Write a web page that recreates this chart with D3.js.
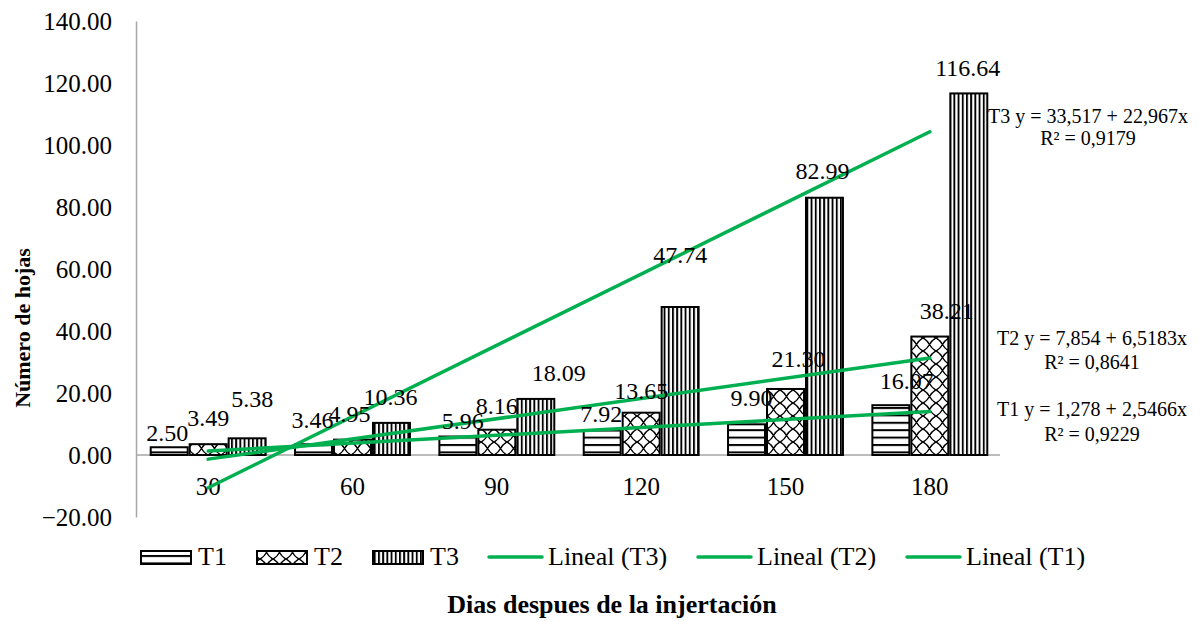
<!DOCTYPE html>
<html>
<head>
<meta charset="utf-8">
<script src="https://cdn.jsdelivr.net/npm/d3@7"></script>
<style>
  html, body { margin: 0; padding: 0; background: #fff; }
  svg { display: block; }
  text { font-family: "Liberation Serif", "Times New Roman", serif; fill: #000; }
</style>
</head>
<body>
<svg id="chart" width="1200" height="621"></svg>
<script>
// ---- data ----
const categories = ["30", "60", "90", "120", "150", "180"];
const seriesNames = ["T1", "T2", "T3"];
const valuesT1 = [2.50, 3.46, 5.96, 7.92, 9.90, 16.07];
const valuesT2 = [3.49, 4.95, 8.16, 13.65, 21.30, 38.21];
const valuesT3 = [5.38, 10.36, 18.09, 47.74, 82.99, 116.64];
const labelsT1 = ["2.50", "3.46", "5.96", "7.92", "9.90", "16.07"];
const labelsT2 = ["3.49", "4.95", "8.16", "13.65", "21.30", "38.21"];
const labelsT3 = ["5.38", "10.36", "18.09", "47.74", "82.99", "116.64"];
const yTicks = [-20, 0, 20, 40, 60, 80, 100, 120, 140];
// linear trend coefficients (x = category index 1..6)
const trendIntercepts = [-1.278, -7.854, -33.517];
const trendSlopes = [2.5466, 6.5183, 22.967];
const trendEquations = ["T1 y = 1,278 + 2,5466x", "T2 y = 7,854 + 6,5183x", "T3 y = 33,517 + 22,967x"];
const trendR2 = ["R² = 0,9229", "R² = 0,8641", "R² = 0,9179"];
const legendLabels = ["T1", "T2", "T3", "Lineal (T3)", "Lineal (T2)", "Lineal (T1)"];

// ---- layout (label nudges in px, relative to default position) ----
const nudgeT1 = [[-2, 12], [-1, 2], [5, 10], [-1, 10], [5, 0], [16, 2]];
const nudgeT2 = [[0, 0], [-3, 0], [0, 2], [0, 4], [13, -4], [17, 0]];
const nudgeT3 = [[5, -13], [-1, 0], [23, 0], [0, -26], [-2, -1], [-1, 1]];

const svg = d3.select("#chart");
const green = "#00B050";
const axisGray = "#A6A6A6";

const x = d3.scaleBand().domain(categories).range([136, 1002]).paddingInner(0.19).paddingOuter(0.095);
const xs = d3.scaleBand().domain(seriesNames).range([0, x.bandwidth()]);
const y = d3.scaleLinear().domain([-20, 140]).range([517, 21]);

// ---- patterns ----
const defs = svg.append("defs");
const p1 = defs.append("pattern").attr("id", "pT1").attr("patternUnits", "userSpaceOnUse").attr("width", 10).attr("height", 7.4);
p1.append("rect").attr("width", 10).attr("height", 7.4).attr("fill", "#fff");
p1.append("rect").attr("y", 0).attr("width", 10).attr("height", 2).attr("fill", "#000");
const p3 = defs.append("pattern").attr("id", "pT3").attr("patternUnits", "userSpaceOnUse").attr("width", 4.2).attr("height", 10);
p3.append("rect").attr("width", 4.2).attr("height", 10).attr("fill", "#fff");
p3.append("rect").attr("x", 0).attr("width", 1.9).attr("height", 10).attr("fill", "#000");
const p2 = defs.append("pattern").attr("id", "pT2").attr("patternUnits", "userSpaceOnUse").attr("width", 13).attr("height", 13);
p2.append("rect").attr("width", 13).attr("height", 13).attr("fill", "#fff");
p2.append("path").attr("d", "M0,0 Q4,2 6.5,6.5 Q9,11 13,13 M13,0 Q9,2 6.5,6.5 Q4,11 0,13")
  .attr("fill", "none").attr("stroke", "#000").attr("stroke-width", 1.4);
const fills = { T1: "url(#pT1)", T2: "url(#pT2)", T3: "url(#pT3)" };

// ---- axes ----
const yAxis = d3.axisLeft(y).tickValues(yTicks).tickSize(0).tickPadding(24).tickFormat(d3.format(".2f"));
const gy = svg.append("g").attr("transform", "translate(136,0)").call(yAxis);
gy.attr("font-family", null);
gy.select(".domain").attr("stroke", axisGray).attr("stroke-width", 1.5);
gy.selectAll(".tick text").style("font-size", "25px").attr("fill", "#000");

const xAxis = d3.axisBottom(x).tickSize(0).tickPadding(22);
const gx = svg.append("g").attr("transform", `translate(0,${y(0)})`).call(xAxis);
gx.attr("font-family", null);
gx.select(".domain").attr("stroke", axisGray).attr("stroke-width", 1.5).attr("d", `M136,0H1000`);
gx.selectAll(".tick text").style("font-size", "25px").attr("fill", "#000").attr("dy", "0.71em");

// ---- bars ----
const seriesData = [
  { name: "T1", values: valuesT1, labels: labelsT1, nudge: nudgeT1 },
  { name: "T2", values: valuesT2, labels: labelsT2, nudge: nudgeT2 },
  { name: "T3", values: valuesT3, labels: labelsT3, nudge: nudgeT3 }
];
const barG = svg.append("g");
seriesData.forEach(s => {
  barG.selectAll(null).data(s.values).enter().append("rect")
    .attr("x", (d, i) => x(categories[i]) + xs(s.name) + 1)
    .attr("y", d => y(d))
    .attr("width", xs.bandwidth() - 2)
    .attr("height", d => y(0) - y(d))
    .attr("fill", fills[s.name])
    .attr("stroke", "#000").attr("stroke-width", 2);
});

// ---- trend lines ----
const trendG = svg.append("g");
[0, 1, 2].forEach(k => {
  const x1 = 1, x2 = categories.length;
  trendG.append("line")
    .attr("x1", x(categories[0]) + x.bandwidth() / 2)
    .attr("y1", y(trendIntercepts[k] + trendSlopes[k] * x1))
    .attr("x2", x(categories[categories.length - 1]) + x.bandwidth() / 2)
    .attr("y2", y(trendIntercepts[k] + trendSlopes[k] * x2))
    .attr("stroke", green).attr("stroke-width", 3.5).attr("stroke-linecap", "round");
});

// ---- data labels ----
const labG = svg.append("g");
seriesData.forEach(s => {
  labG.selectAll(null).data(s.values).enter().append("text")
    .attr("x", (d, i) => x(categories[i]) + xs(s.name) + xs.bandwidth() / 2 + s.nudge[i][0])
    .attr("y", (d, i) => y(d) - 26 + 8 + s.nudge[i][1])
    .attr("text-anchor", "middle")
    .style("font-size", "24px")
    .text((d, i) => s.labels[i]);
});

// ---- trend equations ----
const eqPos = [[1092, 416, 441], [1092, 345, 369], [1088, 123, 145]];
[0, 1, 2].forEach(k => {
  svg.append("text").attr("x", eqPos[k][0]).attr("y", eqPos[k][1]).attr("text-anchor", "middle")
    .style("font-size", "20px").text(trendEquations[k]);
  svg.append("text").attr("x", eqPos[k][0]).attr("y", eqPos[k][2]).attr("text-anchor", "middle")
    .style("font-size", "20px").text(trendR2[k]);
});

// ---- legend ----
const legG = svg.append("g");
const swatchX = [141, 257, 373];
seriesNames.forEach((n, i) => {
  legG.append("rect").attr("x", swatchX[i]).attr("y", 551).attr("width", 50).attr("height", 13)
    .attr("fill", fills[n]).attr("stroke", "#000").attr("stroke-width", 2);
  legG.append("text").attr("x", swatchX[i] + 57).attr("y", 565).style("font-size", "26px").text(legendLabels[i]);
});
const lineX = [489, 698, 907];
[0, 1, 2].forEach(i => {
  legG.append("line").attr("x1", lineX[i]).attr("x2", lineX[i] + 53).attr("y1", 557).attr("y2", 557)
    .attr("stroke", green).attr("stroke-width", 3.5).attr("stroke-linecap", "round");
  legG.append("text").attr("x", lineX[i] + 59).attr("y", 565).style("font-size", "26px").text(legendLabels[3 + i]);
});

// ---- axis titles ----
svg.append("text").attr("x", 612).attr("y", 613).attr("text-anchor", "middle")
  .style("font-size", "26px").style("font-weight", "bold").text("Dias despues de la injertación");
svg.append("text").attr("transform", "translate(30,328) rotate(-90)").attr("text-anchor", "middle")
  .style("font-size", "22px").style("font-weight", "bold").text("Número de hojas");
</script>
</body>
</html>
